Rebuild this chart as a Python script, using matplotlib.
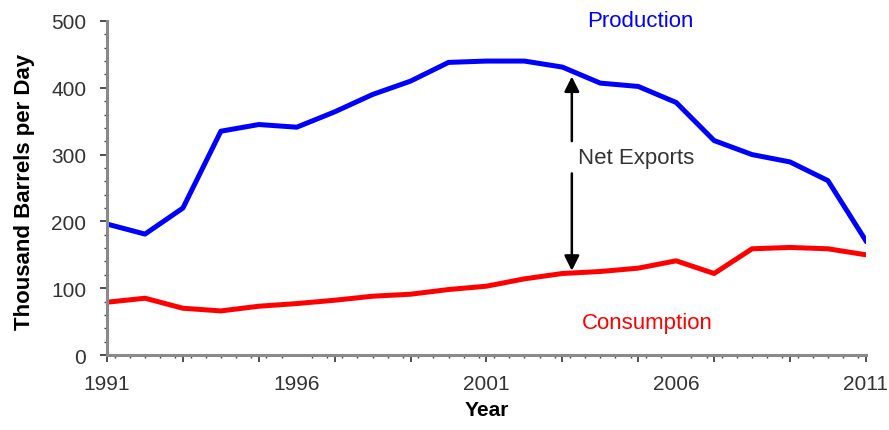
import numpy as np
import matplotlib.pyplot as plt
from matplotlib.ticker import MultipleLocator

plt.rcParams['font.family'] = ['Liberation Sans', 'DejaVu Sans']

years = list(range(1991, 2012))
production = [196, 181, 220, 335, 345, 341, 364, 390, 410, 438, 440,
              440, 431, 407, 402, 378, 321, 300, 289, 261, 171]
consumption = [79, 85, 70, 66, 73, 77, 82, 88, 91, 98, 103,
               114, 122, 125, 130, 141, 122, 159, 161, 159, 150]
label_years = [1991, 1996, 2001, 2006, 2011]

# arrow spot and gap for the label
arrow_x = 2003.25
arrow_top, arrow_bottom = 421, 122
gap_top, gap_bottom = 316, 276

fig = plt.figure(figsize=(8.89, 4.31), dpi=100)
ax = fig.add_axes([0.1204, 0.174, 0.8536, 0.775])

ax.plot(years, production, color='#0000ff', lw=3.6, solid_joinstyle='round')
ax.plot(years, consumption, color='#ff0000', lw=3.6, solid_joinstyle='round')

arrow_kw = dict(arrowstyle='-|>,head_length=0.9,head_width=0.45', color='black', lw=1.8)
ax.annotate('', xy=(arrow_x, arrow_top), xytext=(arrow_x, gap_top), arrowprops=arrow_kw)
ax.annotate('', xy=(arrow_x, arrow_bottom), xytext=(arrow_x, gap_bottom), arrowprops=arrow_kw)
ax.text(arrow_x + 0.15, (gap_top + gap_bottom) / 2, 'Net Exports', fontsize=16,
        color='#333333', va='center', ha='left')

ax.text(2005.05, 501, 'Production', color='#0000ff', fontsize=16, ha='center', va='center')
ax.text(2005.25, 49, 'Consumption', color='#ff0000', fontsize=16, ha='center', va='center')

ax.set_xlim(1991, 2011)
ax.set_ylim(0, 500)
ax.set_xticks(label_years)
ax.xaxis.set_minor_locator(MultipleLocator(0.4))
ax.set_yticks(range(0, 501, 100))
ax.yaxis.set_minor_locator(MultipleLocator(20))

# tick marks every two years, without labels
sec = ax.secondary_xaxis('bottom')
sec.set_xticks(range(1991, 2012, 2))
sec.tick_params(length=5, width=1.2, color='#333333', labelbottom=False)
sec.spines['bottom'].set_visible(False)

for side in ['top', 'right']:
    ax.spines[side].set_visible(False)
for side in ['left', 'bottom']:
    ax.spines[side].set_color('#8a8a8a')
    ax.spines[side].set_linewidth(2.2)

ax.tick_params(axis='x', which='major', length=0, pad=14, labelsize=15, labelcolor='#333333')
ax.tick_params(axis='x', which='minor', length=2, width=1, color='#444444')
ax.tick_params(axis='y', which='major', length=5, width=1.2, pad=10, labelsize=15,
               labelcolor='#333333', color='#333333')
ax.tick_params(axis='y', which='minor', length=2, width=1, color='#444444')

ax.set_xlabel('Year', fontsize=15, fontweight='bold', labelpad=5)
ax.set_ylabel('Thousand Barrels per Day', fontsize=16, fontweight='bold')
ax.yaxis.set_label_coords(-0.095, 0.49)

fig.savefig('out.png', dpi=100)
